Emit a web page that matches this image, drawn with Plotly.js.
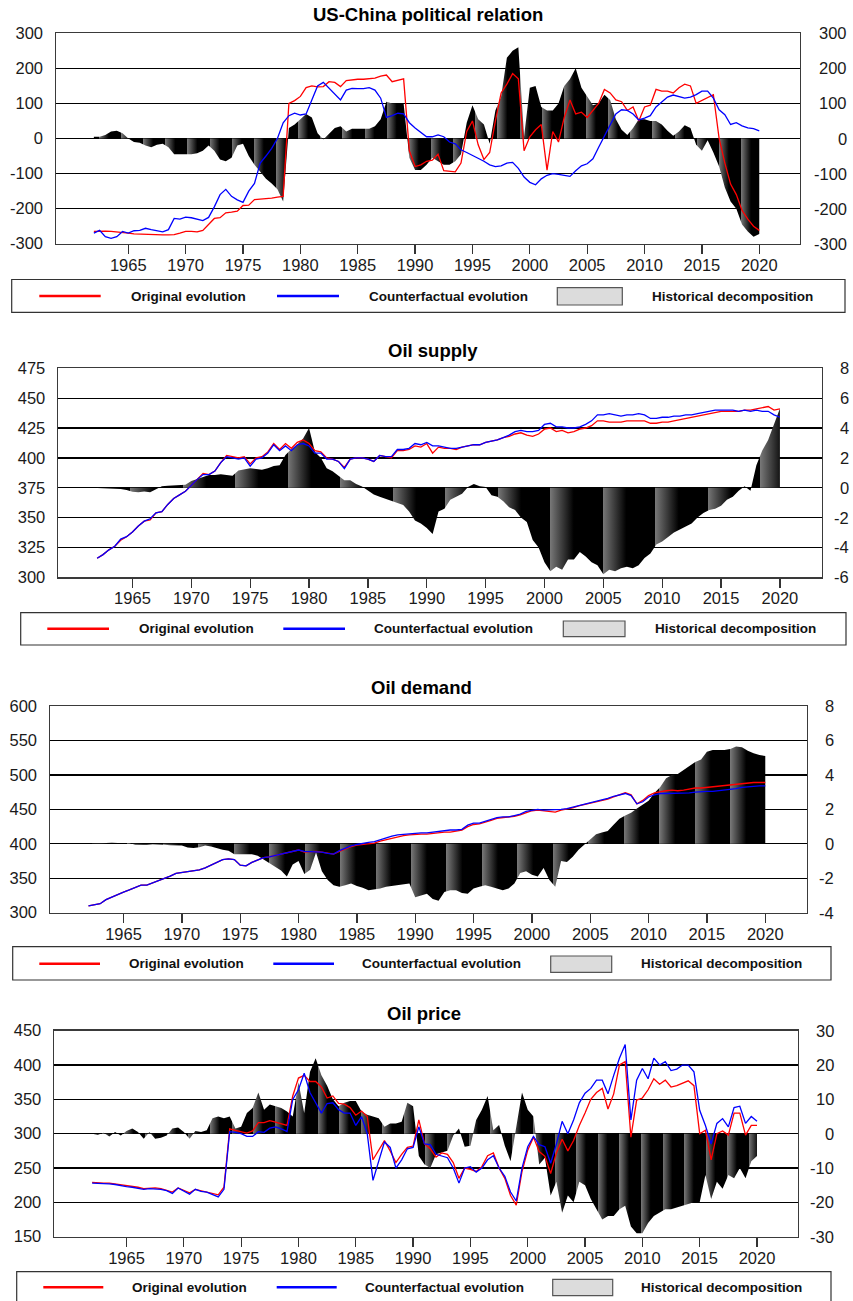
<!DOCTYPE html>
<html>
<head>
<meta charset="utf-8">
<script src="https://cdn.plot.ly/plotly-3.0.1.min.js"></script>
<style>html,body{margin:0;padding:0;background:#fff}#chart{width:853px;height:1301px}</style>
</head>
<body>
<div id="chart"></div>
<script>
// ---------- DATA (semi-annual readings, 1962.0 ... 2020.0) ----------
const years = Array.from({length: 117}, (_, i) => 1962 + i * 0.5);
const xTickVals = [1965, 1970, 1975, 1980, 1985, 1990, 1995, 2000, 2005, 2010, 2015, 2020];
const xTickText = xTickVals.map(String);
const legendLabels = ['Original evolution', 'Counterfactual evolution', 'Historical decomposition'];

// Panel 1: US-China political relation
const usChinaOriginal = [
 -265,-264,-264,-265,-266,-268,-270,-272,-273,-274,
 -275,-275,-275,-275,-274,-270,-265,-265,-266,-262,
 -244,-228,-226,-212,-210,-207,-191,-190,-174,-173,
 -172,-170,-167,-165,100,108,120,145,150,147,
 148,162,160,148,165,168,169,169,170,172,
 178,181,162,166,170,-35,-80,-75,-65,-62,
 -45,-92,-94,-95,-70,20,50,-18,-60,-40,
 50,130,155,185,170,-35,5,25,40,-90,
 20,-10,60,110,70,75,60,80,100,140,
 130,110,105,80,90,50,90,95,140,135,
 135,130,145,155,150,100,108,115,125,0,
 -70,-130,-160,-205,-230,-250,-262];
const usChinaCounterfactual = [
 -270,-262,-280,-285,-280,-265,-270,-263,-262,-256,
 -260,-262,-266,-260,-228,-230,-224,-226,-230,-234,
 -225,-195,-160,-145,-165,-175,-182,-150,-128,-70,
 -50,-28,0,45,65,72,67,70,110,150,
 160,143,128,110,138,143,142,142,145,138,
 115,60,65,72,70,45,30,18,5,5,
 10,5,-10,-15,-32,-40,-48,-56,-65,-75,
 -80,-78,-70,-68,-85,-110,-125,-132,-115,-105,
 -100,-102,-105,-108,-92,-78,-72,-58,-25,6,
 40,70,82,80,70,53,58,65,90,105,
 118,124,120,115,118,125,135,135,115,82,
 68,40,45,36,30,28,22];
const usChinaHistDecomp = [
 5,5,10,20,22,15,0,-10,-12,-20,
 -25,-18,-15,-25,-45,-45,-45,-45,-42,-35,
 -20,-35,-60,-65,-55,-20,-15,-50,-75,-95,
 -115,-128,-145,-180,30,40,55,70,60,15,
 -3,15,30,35,20,28,28,28,28,35,
 55,105,100,100,100,-55,-90,-90,-75,-55,
 -65,-75,-75,-65,-45,45,95,55,40,-15,
 80,120,230,250,260,5,145,150,90,80,
 80,100,150,170,200,145,120,95,100,125,
 110,55,25,10,30,55,55,50,50,40,
 22,8,20,38,30,-18,-35,-5,-40,-80,
 -140,-180,-200,-245,-265,-280,-272];
const usChinaLeftTicks = [-300,-200,-100,0,100,200,300];
const usChinaRightTicks = [-300,-200,-100,0,100,200,300];

// Panel 2: Oil supply
const supplyOriginal = [
 316,319,323,326,331,334,338,343,347,348,
 354,355,361,366,369,372,377,382,387,386,
 389,396,402,401,400,401,395,400,401,405,
 412,407,412,408,413,415,412,406,405,400,
 399,397,392,399,400,400,399,397,402,401,
 400,406,406,407,410,409,412,404,409,408,
 408,407,409,410,411,411,413,414,415,417,
 418,420,421,419,418,420,424,425,422,423,
 421,422,424,425,427,431,431,430,430,430,
 431,431,431,431,429,429,430,430,431,432,
 433,434,435,436,437,438,439,439,439,439,
 440,440,441,442,443,440,441];
const supplyCounterfactual = [
 316,319,323,326,332,334,338,343,347,349,
 354,355,361,366,369,372,377,382,386,386,
 389,396,401,400,399,400,393,399,400,404,
 411,406,410,406,411,412,410,404,404,399,
 399,397,391,399,400,400,399,397,402,401,
 401,407,407,408,412,411,413,410,410,409,
 408,408,409,410,411,411,413,414,415,417,
 419,422,423,422,422,423,428,429,426,426,
 425,425,426,428,431,436,436,437,436,435,
 436,436,437,436,433,433,434,434,435,435,
 436,436,437,438,439,440,440,440,440,439,
 440,439,440,439,439,436,434];
const supplyHistDecomp = [
 -0.02,-0.03,-0.05,-0.1,-0.08,-0.15,-0.27,-0.3,-0.25,-0.3,
 -0.1,0.1,0.13,0.15,0.15,0.2,0.45,0.6,0.75,0.85,
 0.85,0.9,0.85,0.8,1.15,1.2,1.3,1.25,1.2,1.3,
 1.45,1.5,2.2,2.6,2.9,3.3,4.0,2.4,2.0,1.3,
 1.1,0.8,0.5,0.5,0.25,0.08,-0.2,-0.45,-0.6,-0.75,
 -0.85,-1.0,-1.15,-1.6,-2.2,-2.4,-2.7,-3.1,-1.6,-1.4,
 -0.8,-0.6,-0.4,0.05,0.25,0.1,0.05,-0.5,-0.6,-0.9,
 -1.3,-1.5,-2.0,-2.3,-3.5,-4.0,-5.0,-5.6,-5.3,-5.5,
 -4.8,-4.8,-4.3,-4.6,-5.0,-5.2,-5.8,-5.5,-5.6,-5.4,
 -5.3,-5.4,-5.2,-4.7,-4.4,-3.8,-3.6,-3.3,-3.0,-2.8,
 -2.6,-2.4,-2.0,-1.7,-1.5,-1.4,-1.2,-0.8,-0.6,-0.2,
 0.1,-0.2,1.5,2.5,3.2,4.2,5.3];
const supplyLeftTicks = [300,325,350,375,400,425,450,475];
const supplyRightTicks = [-6,-4,-2,0,2,4,6,8];

// Panel 3: Oil demand
const demandOriginal = [
 310,312,313,319,323,326,330,333,336,340,
 340,343,346,349,353,357,358,359,360,362,
 365,369,374,377,378,377,369,368,373,377,
 380,381,383,386,388,390,391,388,389,389,
 388,386,385,389,393,396,398,399,400,401,
 404,406,409,411,412,413,414,414,414,415,
 417,417,417,418,420,425,428,429,431,434,
 437,438,438,440,442,445,448,449,448,446,
 446,449,450,452,455,457,458,460,462,465,
 468,471,474,471,458,463,470,474,476,477,
 478,477,478,480,481,481,482,483,483,484,
 485,486,487,488,489,489,489];
const demandCounterfactual = [
 310,312,313,319,323,326,330,333,336,340,
 340,343,346,349,353,357,358,359,360,362,
 365,369,374,377,378,377,369,368,373,377,
 380,381,383,386,388,390,391,389,389,389,
 388,386,385,390,394,397,399,401,402,403,
 406,408,411,413,414,415,416,416,416,417,
 419,419,420,420,421,427,430,430,433,435,
 438,439,439,441,443,447,449,450,449,449,
 449,450,451,453,456,458,459,461,463,466,
 469,471,473,470,458,461,468,471,473,473,
 473,473,474,474,475,476,476,476,477,477,
 479,480,482,483,484,484,484];
const demandHistDecomp = [
 0,0.02,0.03,0.05,0.06,0.05,0.03,0.05,-0.05,-0.07,
 -0.05,-0.03,-0.02,-0.05,-0.08,-0.1,-0.1,-0.22,-0.25,-0.2,
 -0.1,-0.15,-0.25,-0.35,-0.4,-0.6,-0.6,-0.6,-0.6,-0.7,
 -0.9,-1.1,-1.3,-1.55,-1.9,-1.2,-1.0,-1.75,-1.5,-0.5,
 -1.6,-2.1,-2.4,-2.5,-2.4,-2.3,-2.45,-2.55,-2.7,-2.65,
 -2.6,-2.5,-2.45,-2.4,-2.35,-2.3,-3.1,-3.0,-2.9,-3.2,
 -3.3,-2.8,-2.7,-2.7,-2.85,-2.9,-2.6,-2.5,-2.4,-2.5,
 -2.6,-2.7,-2.6,-2.3,-1.7,-1.6,-1.8,-1.9,-1.4,-2.1,
 -2.5,-1.0,-1.05,-0.75,-0.35,-0.05,0.3,0.55,0.65,0.75,
 1.1,1.45,1.65,1.8,2.05,2.25,2.5,2.95,3.3,3.8,
 4.0,4.05,4.3,4.55,4.75,4.9,5.35,5.45,5.45,5.45,
 5.5,5.65,5.6,5.4,5.25,5.15,5.1];
const demandLeftTicks = [300,350,400,450,500,550,600];
const demandRightTicks = [-4,-2,0,2,4,6,8];

// Panel 4: Oil price
const priceOriginal = [
 229,228,228,228,227,225,224,223,222,220,
 221,221,220,218,215,221,218,214,219,217,
 216,214,211,222,307,305,303,301,304,316,
 316,319,317,315,312,355,381,385,376,376,
 368,352,355,344,343,338,327,333,325,262,
 275,290,275,258,270,280,282,320,285,278,
 266,272,270,258,235,250,248,245,252,268,
 272,250,235,210,196,245,276,295,274,267,
 242,272,292,275,290,312,330,350,360,366,
 336,358,400,405,295,349,352,364,380,372,
 378,368,370,374,377,370,300,305,262,300,
 304,298,330,330,298,312,312];
const priceCounterfactual = [
 228,228,227,227,226,224,223,222,221,219,
 220,220,219,217,213,221,217,212,219,216,
 215,212,208,219,303,302,300,296,296,303,
 302,308,310,307,303,350,364,388,360,345,
 330,344,345,335,330,330,312,325,300,232,
 262,288,280,250,262,278,280,310,285,284,
 270,268,265,250,228,250,252,244,250,262,
 268,250,238,215,202,250,281,296,284,281,
 257,285,318,300,320,345,359,366,378,378,
 358,385,410,430,320,378,395,380,410,400,
 405,392,394,400,400,390,334,312,285,315,
 322,310,338,340,315,325,318];
const priceHistDecomp = [
 0,-0.3,0.3,-0.8,0.5,-0.5,0.8,1.5,0.5,-1.5,
 0.5,-1.5,-1.2,-0.5,1.5,1.8,0.5,-1.5,0.8,0.5,
 1.0,4.5,5,4.5,5,1.5,2,6,7.5,12,
 7,8.5,8,7.5,6.5,5,15,6,18,22,
 17,14,10,8,9,9.5,9.5,6.5,5.5,5,
 4.5,2,3,3,3.5,9,8,-6.5,-9,-10,
 -6,-5.5,-5,-0.5,1.5,-3.8,-3.5,4,7,11,
 1,2.5,-3.5,-8,2,12,7,5,-9,-7,
 -18,-14,-23,-18,-20,-14,-15,-19,-22,-25,
 -24,-24,-22,-21,-27,-29,-29,-26,-24,-23,
 -22,-22,-21.5,-21,-20.5,-20,-20,-12,-19,-14,
 -16,-12,-13,-10,-13,-8,-6.5];
const priceLeftTicks = [150,200,250,300,350,400,450];
const priceRightTicks = [-30,-20,-10,0,10,20,30];

// ---------- LAYOUT / STYLE ----------
const W = 853, H = 1301;
const px = v => v / W;
const py = v => 1 - v / H;
const FONT = 'Liberation Sans, Arial, sans-serif';
const XR = [1958.7, 2023.55];

const panels = [
  {title: 'US-China political relation', orig: usChinaOriginal, cf: usChinaCounterfactual, hd: usChinaHistDecomp,
   lRange: [-300, 300], lTicks: usChinaLeftTicks, rRange: [-300, 300], rTicks: usChinaRightTicks,
   g: {x0: 56, x1: 800, y0: 33.3, y1: 243.7, tx: 428, ty: 15, rlx: 848, t0: 1966.3, P: 1.93},
   lg: {box: [11.7, 845, 279.5, 312.3], ly: 296, red: [39.3, 100.7], t1: 188.7, blue: [277, 339], t2: 448.7, gray: [557.3, 622.3, 287.7, 305], t3: 732}},
  {title: 'Oil supply', orig: supplyOriginal, cf: supplyCounterfactual, hd: supplyHistDecomp,
   lRange: [300, 475], lTicks: supplyLeftTicks, rRange: [-6, 8], rTicks: supplyRightTicks,
   g: {x0: 58.3, x1: 821.7, y0: 368.3, y1: 577.3, tx: 433, ty: 350.5, rlx: 850, t0: 1964.8, P: 4.46},
   lg: {box: [20.7, 846, 612.7, 645], ly: 628.7, red: [47.3, 109], t1: 196, blue: [283.3, 345], t2: 453.7, gray: [563.3, 625, 621, 636.7], t3: 735.2}},
  {title: 'Oil demand', orig: demandOriginal, cf: demandCounterfactual, hd: demandHistDecomp,
   lRange: [300, 600], lTicks: demandLeftTicks, rRange: [-4, 8], rTicks: demandRightTicks,
   g: {x0: 50, x1: 806.7, y0: 706, y1: 912.7, tx: 421.5, ty: 688, rlx: 835, t0: 1971.4, P: 3.04},
   lg: {box: [12.7, 831, 946.7, 980], ly: 963.7, red: [39.3, 100], t1: 186.3, blue: [273.3, 334], t2: 441.8, gray: [550.7, 611.7, 956, 972.3], t3: 721}},
  {title: 'Oil price', orig: priceOriginal, cf: priceCounterfactual, hd: priceHistDecomp,
   lRange: [150, 450], lTicks: priceLeftTicks, rRange: [-30, 30], rTicks: priceRightTicks,
   g: {x0: 54.3, x1: 797.7, y0: 1030.7, y1: 1236.7, tx: 424, ty: 1013, rlx: 835, t0: 1972.28, P: 1.88},
   lg: {box: [16.7, 831, 1271.7, 1312], ly: 1287.3, red: [43.3, 103.3], t1: 189.7, blue: [276.7, 336.7], t2: 444.7, gray: [552.7, 612.7, 1279.3, 1295.7], t3: 721.7}}
];

// repeating grey->black gradient bands (style only)
function bandScale(t0, P) {
  const gFrac = 0.45, top = 120;
  const grey = l => 'rgb(' + l + ',' + l + ',' + l + ')';
  const col = x => {
    let f = (x - t0) / P;
    f = f - Math.floor(f + 1e-9);
    if (f < 0) f = 0;
    return grey(f < gFrac ? Math.round(top * (1 - f / gFrac)) : 0);
  };
  const pts = [{x: XR[0], c: col(XR[0])}, {x: XR[1], c: col(XR[1])}];
  const n0 = Math.floor((XR[0] - t0) / P) - 1;
  for (let n = n0; ; n++) {
    const b = t0 + n * P;
    if (b >= XR[1]) break;
    if (b - 1e-3 > XR[0]) { pts.push({x: b - 1e-3, c: grey(0)}); pts.push({x: b, c: grey(top)}); }
    const m = b + gFrac * P;
    if (m > XR[0] && m < XR[1]) pts.push({x: m, c: grey(0)});
  }
  pts.sort((a, c) => a.x - c.x);
  const span = XR[1] - XR[0];
  const out = [];
  let last = -1;
  pts.forEach(o => {
    let p = (o.x - XR[0]) / span;
    if (p <= last) p = last + 1e-7;
    if (p > 1) return;
    out.push([p, o.c]);
    last = p;
  });
  out[0][0] = 0;
  out[out.length - 1][0] = 1;
  return out;
}

const data = [];
const layout = {
  width: W, height: H, margin: {l: 0, r: 0, t: 0, b: 0},
  paper_bgcolor: '#fff', plot_bgcolor: 'rgba(0,0,0,0)',
  showlegend: false, font: {family: FONT, color: '#1a1a1a'},
  annotations: [], shapes: []
};

panels.forEach((p, k) => {
  const xId = k === 0 ? 'x' : 'x' + (k + 1);
  const bN = 2 * k + 1, oN = 2 * k + 2;
  const bId = bN === 1 ? 'y' : 'y' + bN;
  const oId = 'y' + oN;
  const g = p.g;

  layout['xaxis' + (k === 0 ? '' : k + 1)] = {
    domain: [px(g.x0), px(g.x1)], anchor: bId, range: XR,
    tickvals: xTickVals, ticktext: xTickText, ticks: 'outside', ticklen: 9, tickwidth: 1.3, tickcolor: '#333',
    ticklabelstandoff: -3,
    showline: true, mirror: true, linecolor: '#3a3a3a', linewidth: 1.3,
    showgrid: false, zeroline: false, tickfont: {size: 16.5, family: FONT, color: '#1a1a1a'}, fixedrange: true
  };
  layout['yaxis' + (bN === 1 ? '' : bN)] = {
    domain: [py(g.y1), py(g.y0)], anchor: xId, side: 'right', range: p.rRange,
    tickvals: p.rTicks, showticklabels: false, ticks: '',
    showgrid: true, gridcolor: '#000', gridwidth: 1.3, zeroline: false,
    showline: true, mirror: true, linecolor: '#3a3a3a', linewidth: 1.3, fixedrange: true
  };
  layout['yaxis' + oN] = {
    overlaying: bId, anchor: xId, side: 'left', range: p.lRange,
    tickvals: p.lTicks, ticktext: p.lTicks.map(String), ticks: '', ticklabelstandoff: 12,
    showgrid: false, zeroline: false, showline: false,
    tickfont: {size: 16.5, family: FONT, color: '#1a1a1a'}, fixedrange: true
  };

  // historical decomposition (right axis)
  data.push({
    type: 'scatter', mode: 'lines', x: years, y: p.hd, xaxis: xId, yaxis: bId,
    line: {width: 0, color: '#000'}, fill: 'tozeroy',
    fillgradient: {type: 'horizontal', start: XR[0], stop: XR[1], colorscale: bandScale(g.t0, g.P)},
    hoverinfo: 'skip', showlegend: false
  });
  // lines (left axis)
  data.push({type: 'scatter', mode: 'lines', x: years, y: p.orig, xaxis: xId, yaxis: oId,
    line: {color: '#ff0000', width: 1.3}, name: legendLabels[0], showlegend: false});
  data.push({type: 'scatter', mode: 'lines', x: years, y: p.cf, xaxis: xId, yaxis: oId,
    line: {color: '#0000ff', width: 1.3}, name: legendLabels[1], showlegend: false});

  // title
  layout.annotations.push({text: '<b>' + p.title + '</b>', xref: 'paper', yref: 'paper',
    x: px(g.tx), y: py(g.ty), xanchor: 'center', yanchor: 'middle', showarrow: false,
    font: {size: 18.5, family: FONT, color: '#000'}});
  // right axis labels (right aligned)
  p.rTicks.forEach(v => {
    layout.annotations.push({text: String(v), xref: 'paper', yref: bId, x: px(g.rlx), y: v,
      xanchor: 'right', yanchor: 'middle', showarrow: false, borderpad: 0,
      font: {size: 16.5, family: FONT, color: '#1a1a1a'}});
  });

  // legend box
  const L = p.lg;
  layout.shapes.push({type: 'rect', xref: 'paper', yref: 'paper', x0: px(L.box[0]), x1: px(L.box[1]),
    y0: py(L.box[3]), y1: py(L.box[2]), line: {color: '#333', width: 1.2}, fillcolor: 'rgba(0,0,0,0)'});
  layout.shapes.push({type: 'line', xref: 'paper', yref: 'paper', x0: px(L.red[0]), x1: px(L.red[1]),
    y0: py(L.ly), y1: py(L.ly), line: {color: '#ff0000', width: 2.4}});
  layout.shapes.push({type: 'line', xref: 'paper', yref: 'paper', x0: px(L.blue[0]), x1: px(L.blue[1]),
    y0: py(L.ly), y1: py(L.ly), line: {color: '#0000ff', width: 2.4}});
  layout.shapes.push({type: 'rect', xref: 'paper', yref: 'paper', x0: px(L.gray[0]), x1: px(L.gray[1]),
    y0: py(L.gray[3]), y1: py(L.gray[2]), line: {color: '#555', width: 1.2}, fillcolor: '#dcdcdc'});
  [[L.t1, 0], [L.t2, 1], [L.t3, 2]].forEach(([cx, i]) => {
    layout.annotations.push({text: '<b>' + legendLabels[i] + '</b>', xref: 'paper', yref: 'paper',
      x: px(cx), y: py(L.ly), xanchor: 'center', yanchor: 'middle', showarrow: false,
      font: {size: 13.5, family: FONT, color: '#111'}});
  });
});

Plotly.newPlot('chart', data, layout, {staticPlot: true, displayModeBar: false});
</script>
</body>
</html>
